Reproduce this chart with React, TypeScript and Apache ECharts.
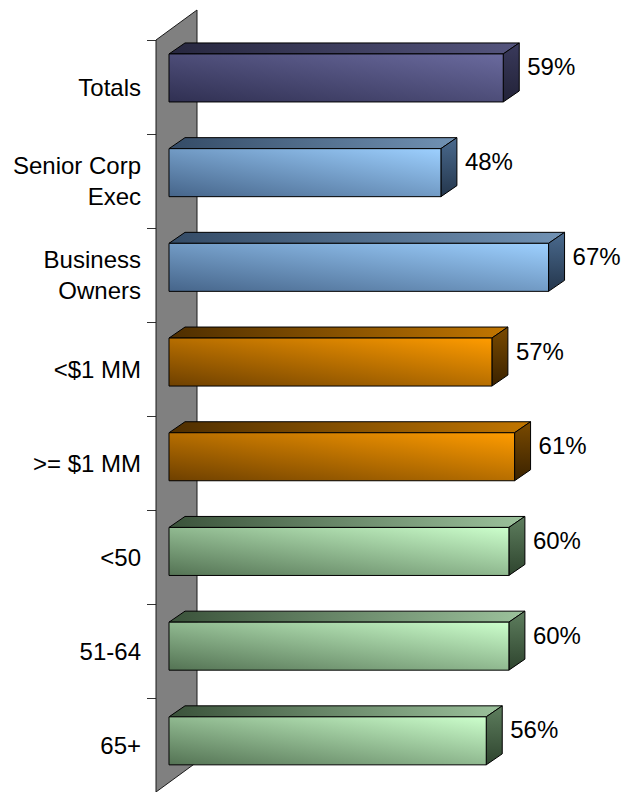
import React, { useEffect, useRef } from "react";
import * as echarts from "echarts";

const categories = [
  "Totals",
  "Senior Corp\nExec",
  "Business\nOwners",
  "<$1 MM",
  ">= $1 MM",
  "<50",
  "51-64",
  "65+",
];
const values = [59, 48, 67, 57, 61, 60, 60, 56];
const groups = ["navy", "blue", "blue", "orange", "orange", "green", "green", "green"];

const palettes: Record<string, { front: [string, string]; top: [string, string]; side: [string, string] }> = {
  navy: { front: ["#303052", "#6a6a9e"], top: ["#27273f", "#55557e"], side: ["#3a3a5c", "#222238"] },
  blue: { front: ["#46658a", "#9dd0ff"], top: ["#344b66", "#7192b4"], side: ["#4a6a8e", "#24364c"] },
  orange: { front: ["#6e4000", "#ff9c00"], top: ["#4e2e00", "#c27600"], side: ["#7a4a00", "#3a2200"] },
  green: { front: ["#547354", "#ccffcc"], top: ["#3a523a", "#9cc29c"], side: ["#5e7e5e", "#2e442e"] },
};

const FONT = '"Liberation Sans", Arial, sans-serif';
const FONT_SIZE = 24;
const BAR_RATIO = 0.507;
const DEPTH_X = 16;
const DEPTH_Y = -11;
const WALL_DX = 41;
const WALL_DY = -30;

export default function App() {
  const ref = useRef<HTMLDivElement>(null);

  useEffect(() => {
    if (!ref.current) return;
    const chart = echarts.init(ref.current, undefined, { renderer: "svg" });
    const lg = (x: number, y: number, x2: number, y2: number, c: [string, string]) =>
      new echarts.graphic.LinearGradient(x, y, x2, y2, [
        { offset: 0, color: c[0] },
        { offset: 1, color: c[1] },
      ]);

    const option: any = {
      animation: false,
      backgroundColor: "#ffffff",
      grid: [
        { left: 169, top: 30.6, width: 453.2, height: 757.6, containLabel: false },
        { left: 156, top: 40, width: 453.2, height: 757.6, containLabel: false },
      ],
      xAxis: [
        { type: "value", gridIndex: 0, min: 0, max: 80, show: false },
        { type: "value", gridIndex: 1, min: 0, max: 80, show: false },
      ],
      yAxis: [
        { type: "category", gridIndex: 0, data: categories, inverse: true, show: false },
        {
          type: "category",
          gridIndex: 1,
          data: categories,
          inverse: true,
          axisLine: { show: false },
          axisTick: { show: true, length: 9, interval: 0, lineStyle: { color: "#333", width: 1 } },
          axisLabel: {
            interval: 0,
            margin: 15,
            fontSize: FONT_SIZE,
            fontFamily: FONT,
            color: "#000",
            lineHeight: 31,
            align: "right",
          },
          splitLine: { show: false },
        },
      ],
      series: [
        {
          type: "custom",
          xAxisIndex: 1,
          yAxisIndex: 1,
          z: 1,
          clip: false,
          silent: true,
          data: [[0, 0]],
          renderItem: (params: any) => {
            const cs = params.coordSys;
            const x = cs.x;
            const y = cs.y;
            const h = cs.height;
            return {
              type: "polygon",
              shape: {
                points: [
                  [x, y],
                  [x + WALL_DX, y + WALL_DY],
                  [x + WALL_DX, y + h + WALL_DY],
                  [x, y + h],
                ],
              },
              style: { fill: "#808080", stroke: "#1a1a1a", lineWidth: 1 },
            };
          },
        },
        {
          type: "custom",
          xAxisIndex: 0,
          yAxisIndex: 0,
          z: 2,
          clip: false,
          data: values.map((v, i) => [v, i]),
          renderItem: (params: any, api: any) => {
            const v = api.value(0);
            const i = api.value(1);
            const p0 = api.coord([0, i]);
            const p1 = api.coord([v, i]);
            const band = api.size([0, 1])[1];
            const h = band * BAR_RATIO;
            const x0 = p0[0];
            const x1 = p1[0];
            const yc = p0[1];
            const yt = yc - h / 2;
            const yb = yc + h / 2;
            const pal = palettes[groups[i]];
            return {
              type: "group",
              children: [
                {
                  type: "polygon",
                  shape: {
                    points: [
                      [x0, yt],
                      [x0 + DEPTH_X, yt + DEPTH_Y],
                      [x1 + DEPTH_X, yt + DEPTH_Y],
                      [x1, yt],
                    ],
                  },
                  style: { fill: lg(0, 0, 1, 0, pal.top), stroke: "#000", lineWidth: 1 },
                },
                {
                  type: "polygon",
                  shape: {
                    points: [
                      [x1, yt],
                      [x1 + DEPTH_X, yt + DEPTH_Y],
                      [x1 + DEPTH_X, yb + DEPTH_Y],
                      [x1, yb],
                    ],
                  },
                  style: { fill: lg(0, 0, 0, 1, pal.side), stroke: "#000", lineWidth: 1 },
                },
                {
                  type: "rect",
                  shape: { x: x0, y: yt, width: x1 - x0, height: h },
                  style: { fill: lg(0, 1, 1, 0, pal.front), stroke: "#000", lineWidth: 1 },
                },
                {
                  type: "text",
                  style: {
                    text: `${v}%`,
                    x: x1 + 24,
                    y: yc - 11,
                    align: "left",
                    verticalAlign: "middle",
                    fontSize: FONT_SIZE,
                    fontFamily: FONT,
                    fill: "#000",
                  },
                },
              ],
            };
          },
        },
      ],
    };
    chart.setOption(option);
    return () => chart.dispose();
  }, []);

  return (
    <div
      ref={ref}
      style={{ position: "absolute", left: 0, top: 0, width: 634, height: 792 }}
    />
  );
}
